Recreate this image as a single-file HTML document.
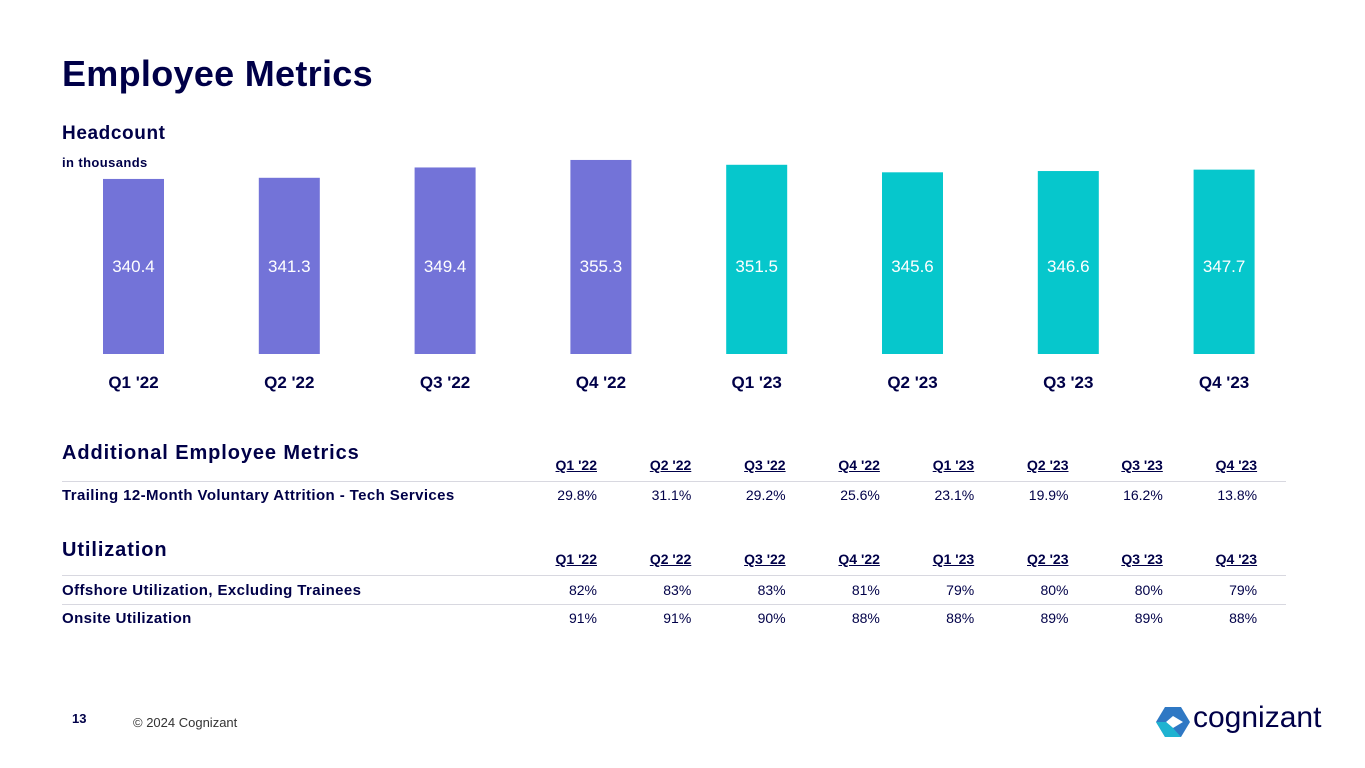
<!DOCTYPE html>
<html><head><meta charset="utf-8"><style>
body{margin:0;width:1365px;height:768px;background:#fff;font-family:"Liberation Sans",sans-serif;color:#000048;position:relative;overflow:hidden}
.a{position:absolute;white-space:nowrap}
.h{font-weight:bold}
.cell{position:absolute;font-size:14px;text-align:right;width:80px}
.hd{text-decoration:underline;font-weight:bold}
.line{position:absolute;left:62px;width:1224px;height:1px;background:#d8d8e0}
</style></head><body>
<div class="a h" style="left:62px;top:53px;font-size:36px;letter-spacing:0.3px">Employee Metrics</div>
<div class="a h" style="left:62px;top:123px;font-size:19px;letter-spacing:0.6px">Headcount</div>
<div class="a h" style="left:62px;top:155px;font-size:13px;letter-spacing:0.4px">in thousands</div>
<svg id="chart" width="1365" height="400" style="position:absolute;left:0;top:0"></svg>
<div class="a h" style="left:62px;top:442px;font-size:20px;letter-spacing:0.9px">Additional Employee Metrics</div>
<div class="a h" style="left:62px;top:539px;font-size:20px;letter-spacing:0.9px">Utilization</div>
<div id="tables"></div>
<div class="a h" style="left:72px;top:711px;font-size:13px">13</div>
<div class="a" style="left:133px;top:715px;font-size:13px;color:#333">© 2024 Cognizant</div>
<div class="a" style="left:1155px;top:705px">
<svg width="36" height="34" style="position:absolute;left:0;top:0"><polygon points="10,2 26,2 35,17 26,32 10,32 1,17" fill="#2f78c4"/><polygon points="18,11 28,17 18,23 11,17" fill="#fff"/><polygon points="1,17 10,32 26,32 18,23 11,17" fill="#1fb3d1"/></svg>
<div class="a" style="left:38px;top:-4px;font-size:30px;color:#000048">cognizant</div></div>
<script>
const cats=["Q1 '22","Q2 '22","Q3 '22","Q4 '22","Q1 '23","Q2 '23","Q3 '23","Q4 '23"];
const headcount=[340.4,341.3,349.4,355.3,351.5,345.6,346.6,347.7];
const attrition=["29.8%","31.1%","29.2%","25.6%","23.1%","19.9%","16.2%","13.8%"];
const offshore=["82%","83%","83%","81%","79%","80%","80%","79%"];
const onsite=["91%","91%","90%","88%","88%","89%","89%","88%"];
const NS="http://www.w3.org/2000/svg";
const svg=document.getElementById('chart');
const xc=i=>133.5+i*155.8;
const y=v=>354-(v-203.1)*1.275;
headcount.forEach((v,i)=>{
 const r=document.createElementNS(NS,'rect');
 r.setAttribute('x',xc(i)-30.5);r.setAttribute('y',y(v));r.setAttribute('width',61);r.setAttribute('height',354-y(v));
 r.setAttribute('fill',i<4?'#7373d8':'#06c7cc');
 
 
 svg.appendChild(r);
 const t=document.createElementNS(NS,'text');
 t.setAttribute('x',xc(i));t.setAttribute('y',272);t.setAttribute('text-anchor','middle');
 t.setAttribute('font-size','17');t.setAttribute('fill','#fff');t.setAttribute('font-family','Liberation Sans');
 t.textContent=v.toFixed(1);
 
 
 svg.appendChild(t);
 const c=document.createElementNS(NS,'text');
 c.setAttribute('x',xc(i));c.setAttribute('y',388);c.setAttribute('text-anchor','middle');
 c.setAttribute('font-size','17');c.setAttribute('fill','#000048');c.setAttribute('font-weight','bold');c.setAttribute('font-family','Liberation Sans');
 c.textContent=cats[i];
 
 
 svg.appendChild(c);
});
const T=document.getElementById('tables');
const colR=i=>597+i*94.3;
function add(html,name,style){const d=document.createElement('div');d.innerHTML=html;d.setAttribute('style',style);d.className='a';
 
 
 T.appendChild(d);return d;}
function header(top){cats.forEach((c,i)=>{const d=add(c,'column-header','');d.className='cell hd';d.style.left=(colR(i)-80)+'px';d.style.top=top+'px';});}
function row(label,vals,top){add(label,'row-label','left:62px;top:'+top+'px;font-size:15px;font-weight:bold;letter-spacing:0.4px');
 vals.forEach((v,i)=>{const d=add(v,'table-cell','');d.className='cell';d.style.left=(colR(i)-80)+'px';d.style.top=top+'px';});}
function line(top){const d=add('','row-divider','');d.className='line';d.style.top=top+'px';}
header(457);line(481);row('Trailing 12-Month Voluntary Attrition - Tech Services',attrition,487);
header(551);line(575);row('Offshore Utilization, Excluding Trainees',offshore,582);line(604);row('Onsite Utilization',onsite,610);
</script>
</body></html>
